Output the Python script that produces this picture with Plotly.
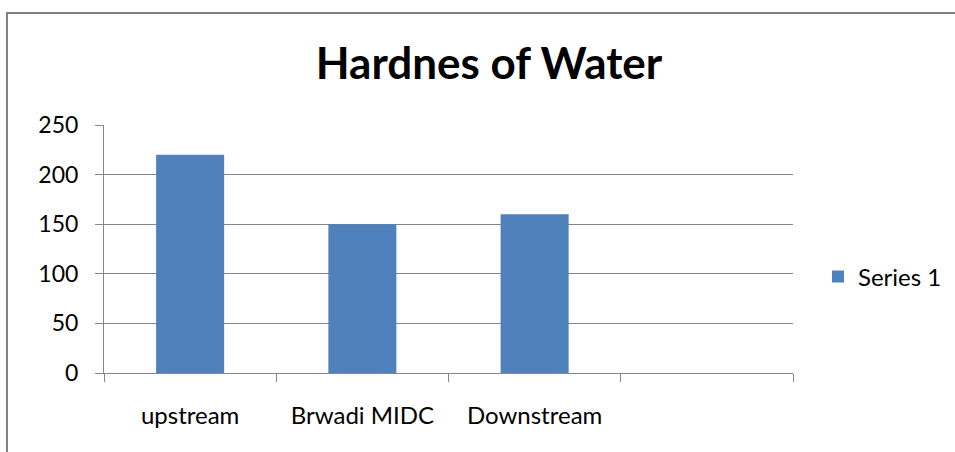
import plotly.graph_objects as go

categories = ["upstream", "Brwadi MIDC", "Downstream"]
empty_slot = [" "]
values = [220, 150, 160]
series_name = "Series 1"
y_ticks = [0, 50, 100, 150, 200, 250]
title_text = "Hardnes of Water"

FONT = "Lato, 'Open Sans', sans-serif"
GRID = "#868686"

L, R, T, B = 104, 162, 125, 79
W, H = 955, 452
pw, ph = W - L - R, H - T - B

fig = go.Figure(
    go.Bar(
        x=categories,
        y=values,
        name=series_name,
        marker=dict(color="#4F81BD", line=dict(width=0)),
        showlegend=True,
    )
)

fig.update_layout(
    width=W,
    height=H,
    margin=dict(l=L, r=R, t=T, b=B, autoexpand=False),
    paper_bgcolor="white",
    plot_bgcolor="white",
    bargap=0.605,
    font=dict(family=FONT, size=24, color="black"),
    title=dict(
        text="<b>" + title_text + "</b>",
        font=dict(family=FONT, size=44, color="black"),
        x=489 / W,
        xanchor="center",
        y=1 - 64 / H,
        yanchor="middle",
        xref="container",
        yref="container",
    ),
    legend=dict(
        x=(818 - L) / pw,
        xanchor="left",
        y=(373 - 277) / ph,
        yanchor="middle",
        font=dict(family=FONT, size=24, color="black"),
        bgcolor="rgba(0,0,0,0)",
    ),
    xaxis=dict(
        type="category",
        categoryorder="array",
        categoryarray=categories + empty_slot,
        range=[-0.5, 3.5],
        tickson="boundaries",
        ticks="outside",
        ticklen=8,
        tickcolor=GRID,
        tickwidth=1,
        showgrid=False,
        showline=True,
        linecolor=GRID,
        linewidth=1,
        ticklabelstandoff=21,
        tickfont=dict(family=FONT, size=24, color="black"),
        fixedrange=True,
    ),
    yaxis=dict(
        range=[0, 250],
        tickvals=y_ticks,
        ticks="outside",
        ticklen=8,
        tickcolor=GRID,
        showgrid=True,
        gridcolor=GRID,
        gridwidth=1,
        showline=True,
        linecolor=GRID,
        linewidth=1,
        zeroline=False,
        ticklabelstandoff=12,
        tickfont=dict(family=FONT, size=23, color="black"),
        fixedrange=True,
    ),
    shapes=[
        dict(
            type="rect",
            xref="paper",
            yref="paper",
            x0=(7 - L) / pw,
            x1=(965 - L) / pw,
            y0=(H - T - B + T - 470) / ph,
            y1=(H - B - 13) / ph,
            line=dict(color="#808080", width=2),
            fillcolor="rgba(0,0,0,0)",
            layer="below",
        )
    ],
)

fig.write_html(
    "out.html",
    config={"displayModeBar": False},
    post_script="document.body.style.margin='0px';document.body.style.padding='0px';",
)
